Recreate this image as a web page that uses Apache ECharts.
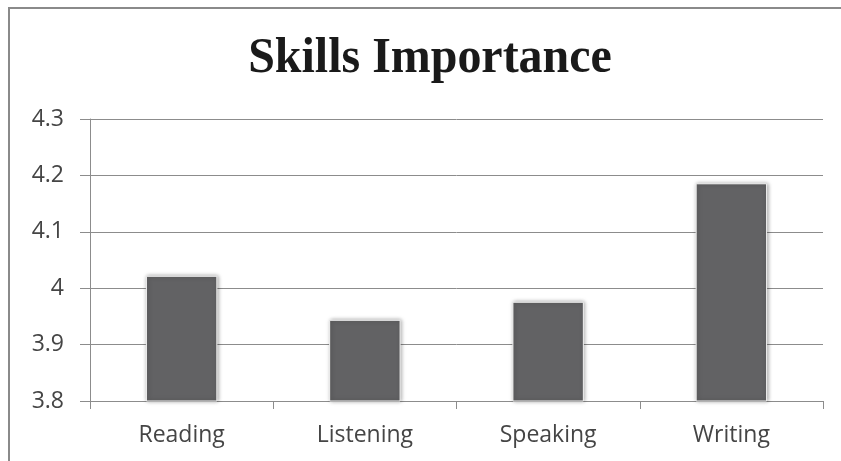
<!DOCTYPE html>
<html>
<head>
<meta charset="utf-8">
<script src="https://cdn.jsdelivr.net/npm/echarts@6/dist/echarts.min.js"></script>
<style>
  html, body { margin: 0; padding: 0; background: #fff; }
  #chart { width: 841px; height: 461px; }
</style>
</head>
<body>
<div id="chart"></div>
<script>
// data
const skills = ['Reading', 'Listening', 'Speaking', 'Writing']
const importance = [4.022, 3.944, 3.976, 4.186]
const yTicks = [3.8, 3.9, 4.0, 4.1, 4.2, 4.3]

const chart = echarts.init(document.getElementById('chart'))

const option = {
  animation: false,
  graphic: [{
    type: 'rect',
    shape: { x: 9, y: 8, width: 900, height: 600 },
    style: { fill: 'none', stroke: '#8a8a8a', lineWidth: 2 }
  }, {
    // title, slightly condensed like the original
    type: 'text',
    x: 430,
    y: 33,
    scaleX: 0.94,
    style: {
      text: 'Skills Importance',
      fontFamily: 'Liberation Serif',
      fontWeight: 'bold',
      fontSize: 51,
      fill: '#1a1a1a',
      align: 'center',
      verticalAlign: 'top'
    }
  }],
  grid: {
    left: 90,
    right: 18,
    top: 119,
    bottom: 60
  },
  xAxis: {
    type: 'category',
    data: skills,
    axisLine: { lineStyle: { color: '#8c8c8c', width: 1 } },
    axisTick: { show: true, length: 8, lineStyle: { color: '#8c8c8c' } },
    axisLabel: {
      margin: 23,
      fontFamily: 'Open Sans',
      fontSize: 23,
      color: '#454545'
    }
  },
  yAxis: {
    type: 'value',
    min: yTicks[0],
    max: yTicks[yTicks.length - 1],
    interval: 0.1,
    axisLine: { show: true, lineStyle: { color: '#8c8c8c', width: 1 } },
    axisTick: { show: true, length: 10, lineStyle: { color: '#8c8c8c' } },
    splitLine: { lineStyle: { color: '#8c8c8c', width: 1 } },
    axisLabel: {
      margin: 26,
      fontFamily: 'Open Sans',
      fontSize: 23,
      color: '#454545',
      formatter: v => String(Math.round(v * 10) / 10)
    }
  },
  series: [{
    type: 'bar',
    data: importance,
    barWidth: '39%',
    itemStyle: {
      color: '#626264',
      borderColor: '#f4f4f4',
      borderWidth: 1,
      shadowBlur: 4,
      shadowColor: 'rgba(0,0,0,0.35)',
      shadowOffsetX: 1,
      shadowOffsetY: 0
    }
  }]
}

chart.setOption(option)
</script>
</body>
</html>
